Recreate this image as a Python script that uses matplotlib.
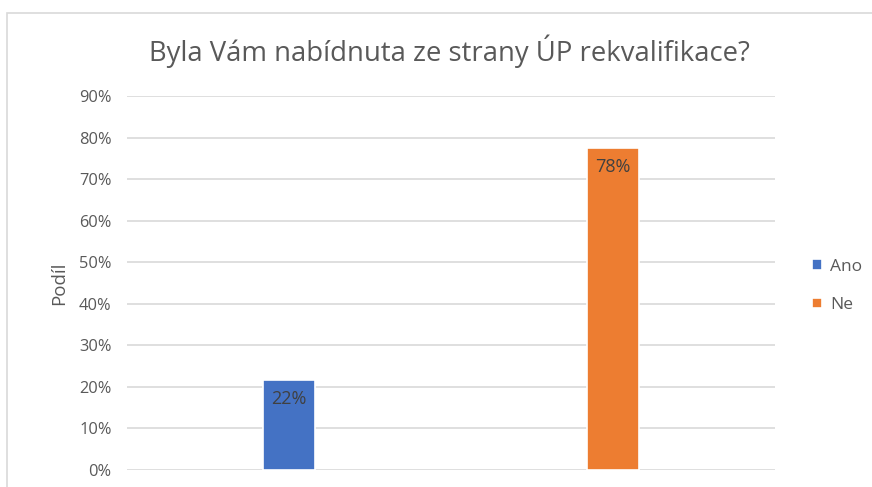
import matplotlib.pyplot as plt
from matplotlib.patches import Rectangle
from matplotlib.ticker import PercentFormatter

categories = ["Ano", "Ne"]
shares = [0.216, 0.776]
labels = ["22%", "78%"]
colors = ["#4472C4", "#ED7D31"]
yticks = [0, 0.1, 0.2, 0.3, 0.4, 0.5, 0.6, 0.7, 0.8, 0.9]

plt.rcParams['font.family'] = ['Open Sans', 'DejaVu Sans']

fig = plt.figure(figsize=(8.72, 4.87), dpi=100)
ax = fig.add_axes([127 / 872, 1 - 470 / 487, 648 / 872, 374 / 487])

# chart frame (cropped on right and bottom like the screenshot)
fig.patches.append(Rectangle((7 / 872, -0.1), 1.0, 1 - 13 / 487 + 0.1,
                             transform=fig.transFigure, fill=False,
                             edgecolor="#D9D9D9", linewidth=1.2))

for i, (cat, val, lab, col) in enumerate(zip(categories, shares, labels, colors)):
    ax.bar(i, val, width=0.16, color=col, edgecolor="white", linewidth=1.2,
           label=cat, zorder=3)
    ax.text(i, val - 0.024, lab, ha="center", va="top", fontsize=13,
            color="#404040", zorder=4)

ax.set_xlim(-0.5, 1.5)
ax.set_ylim(0, 0.9)
ax.set_yticks(yticks)
ax.yaxis.set_major_formatter(PercentFormatter(1.0, decimals=0))
ax.grid(axis="y", color="#D9D9D9", linewidth=1.2, zorder=0)
ax.set_xticks([])
for s in ax.spines.values():
    s.set_visible(False)
ax.tick_params(axis="y", length=0, pad=11, labelsize=11.8, labelcolor="#595959")
ax.set_ylabel("Podíl", fontsize=13.5, color="#595959", labelpad=8)

fig.text(449 / 872, 1 - 51 / 487, "Byla Vám nabídnuta ze strany ÚP rekvalifikace?",
         ha="center", va="center", fontsize=19.8, color="#595959")

ax.legend(loc="center left", bbox_to_anchor=(1.033, 0.492), frameon=False,
          fontsize=12.5, labelcolor="#595959", handlelength=0.55, handleheight=0.55,
          handletextpad=0.5, labelspacing=1.3)

fig.savefig("out.png", dpi=100)
